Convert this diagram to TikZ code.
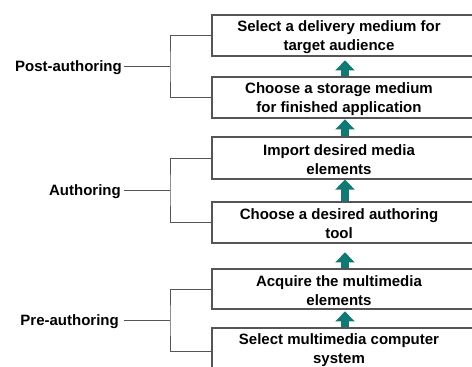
\documentclass[tikz,border=0pt]{standalone}
\usepackage{fontspec}
\setmainfont{Liberation Sans}
\usetikzlibrary{arrows.meta,calc}
\definecolor{boxline}{RGB}{85,85,85}
\definecolor{teal1}{RGB}{18,120,115}
\begin{document}
\begin{tikzpicture}[x=1pt,y=-1pt,
  stepbox/.style={draw=boxline,line width=1.2pt,rectangle,minimum width=268pt,inner sep=0pt},
  steptext/.style={font=\bfseries\fontsize{15}{19}\selectfont,align=center,inner sep=0pt},
  phase/.style={font=\bfseries\fontsize{15}{18}\selectfont,inner sep=0pt,text height=10.5pt,text depth=0pt,anchor=east},
  bracket/.style={draw=boxline,line width=1pt},
  uparrow/.style={line width=7.5pt,draw=teal1,-{Triangle[width=19pt,length=10pt]}}]
\useasboundingbox (0,0) rectangle (472,367);
\clip (0,0) rectangle (472,367);
% boxes
\node[stepbox,minimum height=41pt] (b1) at (346,35.5) {};
\node[stepbox,minimum height=41pt] (b2) at (346,97.5) {};
\node[stepbox,minimum height=42pt] (b3) at (346,158) {};
\node[stepbox,minimum height=41pt] (b4) at (346,222.5) {};
\node[stepbox,minimum height=40pt] (b5) at (346,289) {};
\node[stepbox,minimum height=47pt] (b6) at (346,351.5) {};
% texts
\node[steptext] (t1) at (339,37) {Select a delivery medium for\\target audience};
\node[steptext] (t2) at (339,99) {Choose a storage medium\\for finished application};
\node[steptext] (t3) at (339,159.5) {Import desired media\\elements};
\node[steptext] (t4) at (339,224) {Choose a desired authoring\\tool};
\node[steptext] (t5) at (339,290.5) {Acquire the multimedia\\elements};
\node[steptext] (t6) at (339,350) {Select multimedia computer\\system};
% arrows
\coordinate (ax) at (345,0);
\draw[uparrow] (b2.north -| ax) -- ++(0,-16);
\draw[uparrow] (b3.north -| ax) -- ++(0,-17);
\draw[uparrow] (b4.north -| ax) -- (b3.south -| ax);
\draw[uparrow] (b5.north -| ax) -- ++(0,-16);
\draw[uparrow] (b6.north -| ax) -- ++(0,-16);
% phase labels
\node[phase] (post) at (122,66.5) {Post-authoring};
\node[phase] (auth) at (121,190.5) {Authoring};
\node[phase] (pre) at (119,320.5) {Pre-authoring};
\coordinate (pb) at (170,66.5);
\coordinate (ab) at (170,190.5);
\coordinate (rb) at (170,320.5);
\draw[bracket] ($(post.east)+(2,0)$) -- (pb);
\draw[bracket] ($(auth.east)+(3,0)$) -- (ab);
\draw[bracket] ($(pre.east)+(5,0)$) -- (rb);
\draw[bracket] (b1.west) -| (pb) |- (b2.west);
\draw[bracket] (b3.west) -| (ab) |- (b4.west);
\draw[bracket] (b5.west) -| (rb) |- (b6.west);
\end{tikzpicture}
\end{document}
